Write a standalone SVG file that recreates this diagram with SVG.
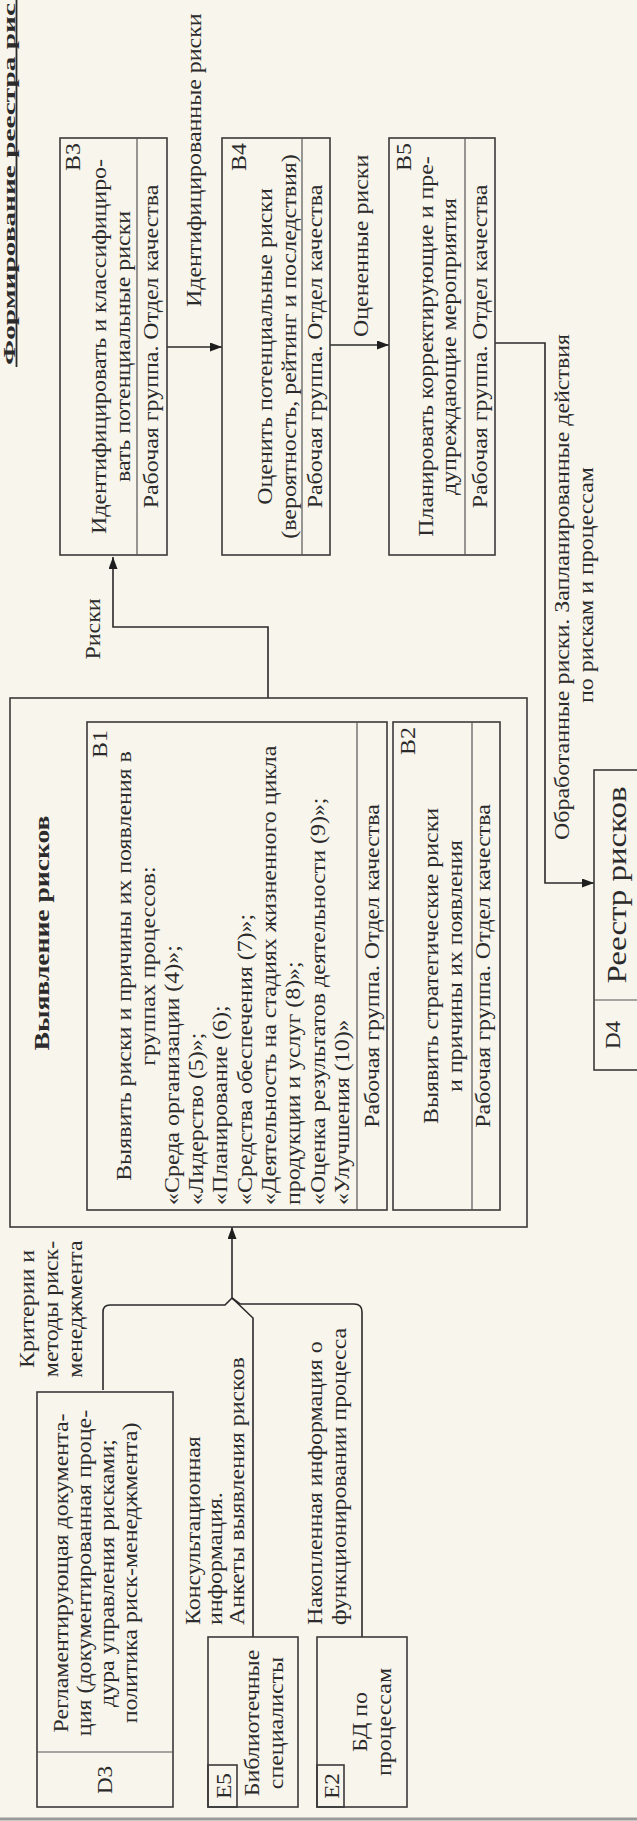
<svg xmlns="http://www.w3.org/2000/svg" width="637" height="1821" viewBox="0 0 637 1821" xml:space="preserve">
<style>
.t{font-family:"Liberation Serif","Times New Roman",serif;font-size:21px;fill:#2b2b2b}
.m{text-anchor:middle}.s{text-anchor:start}.e{text-anchor:end}
.b{font-weight:bold}
.box{fill:none;stroke:#3a3a3a;stroke-width:1.6}
.dv{fill:none;stroke:#555;stroke-width:1.2}
.con{fill:none;stroke:#2a2a2a;stroke-width:1.6}
</style>
<defs>
<marker id="ah" markerUnits="userSpaceOnUse" markerWidth="13" markerHeight="10" refX="12" refY="4.5" orient="auto">
<path d="M0,0 L12,4.5 L0,9 z" fill="#1e1e1e"/>
</marker>
</defs>
<rect x="0" y="0" width="637" height="1821" fill="#f8f5ec"/>
<g transform="matrix(0,-1,1,0,0,1821)">
<line x1="2" y1="0" x2="2" y2="637" stroke="#999" stroke-width="3"/>
<g id="title">
<text class="t b" x="1456" y="14.5" style="font-size:17px" textLength="362" lengthAdjust="spacingAndGlyphs">Формирование реестра рис</text>
<line x1="1454" y1="16.5" x2="1821" y2="16.5" stroke="#2b2b2b" stroke-width="1.8"/>
</g>
<g id="connectors">
<path class="con" d="M1123,268 H1194 V113 H1264" marker-end="url(#ah)"/>
<path class="con" d="M1474,167 V222" marker-end="url(#ah)"/>
<path class="con" d="M1476,330 V389" marker-end="url(#ah)"/>
<path class="con" d="M1478,495 V545 H938 V594" marker-end="url(#ah)"/>
<path class="con" d="M523,232 H594" marker-end="url(#ah)"/>
<path class="con" d="M431,103 H509 Q516,103 516,110 V225 L523,232"/>
<path class="con" d="M184,253 H503 L523,232"/>
<path class="con" d="M184,362 H509 Q517,362 517,354 V240 L523,232"/>
<text class="t m" transform="translate(1192,100) scale(1.14,1)">Риски</text>
<text class="t s" transform="translate(1514,201) scale(1.14,1)">Идентифицированные риски</text>
<text class="t s" transform="translate(1484,368) scale(1.14,1)">Оцененные риски</text>
<text class="t m" transform="translate(1234,569) scale(1.14,1)">Обработанные  риски. Запланированные действия</text>
<text class="t m" transform="translate(1236,593) scale(1.14,1)">по рискам и процессам</text>
<text class="t m" transform="translate(512,34) scale(1.14,1)">Критерии и</text>
<text class="t m" transform="translate(512,58) scale(1.14,1)">методы риск-</text>
<text class="t m" transform="translate(512,82) scale(1.14,1)">менеджмента</text>
<text class="t s" transform="translate(196,200) scale(1.14,1)">Консультационная</text>
<text class="t s" transform="translate(196,222) scale(1.14,1)">информация.</text>
<text class="t s" transform="translate(196,244) scale(1.14,1)">Анкеты выявления рисков</text>
<text class="t s" transform="translate(196,322) scale(1.14,1)">Накопленная информация о</text>
<text class="t s" transform="translate(196,346) scale(1.14,1)">функционировании процесса</text>
</g>
<g id="A0">
<rect class="box" x="594" y="10" width="529" height="517"/>
<text class="t m b" x="888" y="49" style="font-size:22px" textLength="235" lengthAdjust="spacingAndGlyphs">Выявление рисков</text>
</g>
<g id="B1">
<rect class="box" x="611" y="87" width="488" height="300"/>
<line class="dv" x1="611" y1="357" x2="1099" y2="357"/>
<text class="t e" transform="translate(1091,107) scale(1.14,1)">B1</text>
<text class="t m" transform="translate(855,131) scale(1.14,1)">Выявить риски и причины их появления в</text>
<text class="t m" transform="translate(855,155) scale(1.14,1)">группах процессов:</text>
<text class="t s" transform="translate(616,179) scale(1.14,1)">«Среда организации (4)»;</text>
<text class="t s" transform="translate(616,203) scale(1.14,1)">«Лидерство (5)»;</text>
<text class="t s" transform="translate(616,227) scale(1.14,1)">«Планирование (6);</text>
<text class="t s" transform="translate(616,252) scale(1.14,1)">«Средства обеспечения (7)»;</text>
<text class="t s" transform="translate(616,276) scale(1.14,1)">«Деятельность на стадиях жизненного цикла</text>
<text class="t s" transform="translate(616,300) scale(1.14,1)">продукции и услуг (8)»;</text>
<text class="t s" transform="translate(616,325) scale(1.14,1)">«Оценка результатов деятельности (9)»;</text>
<text class="t s" transform="translate(616,349) scale(1.14,1)">«Улучшения (10)»</text>
<text class="t m" transform="translate(855,379) scale(1.14,1)">Рабочая группа. Отдел качества</text>
</g>
<g id="B2">
<rect class="box" x="611" y="393" width="488" height="107"/>
<line class="dv" x1="611" y1="472" x2="1099" y2="472"/>
<text class="t e" transform="translate(1094,415) scale(1.14,1)">B2</text>
<text class="t m" transform="translate(855,438) scale(1.14,1)">Выявить стратегические  риски</text>
<text class="t m" transform="translate(855,462) scale(1.14,1)">и причины их появления</text>
<text class="t m" transform="translate(855,490) scale(1.14,1)">Рабочая группа. Отдел качества</text>
</g>
<g id="B3">
<rect class="box" x="1266" y="60" width="417" height="107"/>
<line class="dv" x1="1266" y1="137" x2="1683" y2="137"/>
<text class="t e" transform="translate(1678,80) scale(1.14,1)">B3</text>
<text class="t m" transform="translate(1474.5,106) scale(1.14,1)">Идентифицировать и классифициро-</text>
<text class="t m" transform="translate(1474.5,130) scale(1.14,1)">вать  потенциальные риски</text>
<text class="t m" transform="translate(1474.5,158) scale(1.14,1)">Рабочая группа. Отдел качества</text>
</g>
<g id="B4">
<rect class="box" x="1266" y="222" width="417" height="108"/>
<line class="dv" x1="1266" y1="302" x2="1683" y2="302"/>
<text class="t e" transform="translate(1678,246) scale(1.14,1)">B4</text>
<text class="t m" transform="translate(1474.5,272) scale(1.14,1)">Оценить потенциальные риски</text>
<text class="t m" transform="translate(1474.5,296) scale(1.14,1)">(вероятность, рейтинг и последствия)</text>
<text class="t m" transform="translate(1474.5,322) scale(1.14,1)">Рабочая группа. Отдел качества</text>
</g>
<g id="B5">
<rect class="box" x="1266" y="389" width="417" height="106"/>
<line class="dv" x1="1266" y1="465" x2="1683" y2="465"/>
<text class="t e" transform="translate(1678,411) scale(1.14,1)">B5</text>
<text class="t m" transform="translate(1474.5,433) scale(1.14,1)">Планировать корректирующие и пре-</text>
<text class="t m" transform="translate(1474.5,456) scale(1.14,1)">дупреждающие мероприятия</text>
<text class="t m" transform="translate(1474.5,487) scale(1.14,1)">Рабочая группа. Отдел качества</text>
</g>
<g id="D4">
<rect class="box" x="751" y="594" width="300" height="70"/>
<line class="dv" x1="821" y1="594" x2="821" y2="637"/>
<text class="t m" transform="translate(786,620) scale(1.1,1)">D4</text>
<text class="t m" transform="translate(936,626) scale(1.22,1)" style="font-size:27px">Реестр рисков</text>
</g>
<g id="D3">
<rect class="box" x="14" y="37" width="415" height="136"/>
<line class="dv" x1="69" y1="37" x2="69" y2="173"/>
<text class="t m" transform="translate(41,112) scale(1.1,1)">D3</text>
<text class="t m" transform="translate(248,68) scale(1.14,1)">Регламентирующая документа-</text>
<text class="t m" transform="translate(248,91) scale(1.14,1)">ция (документированная проце-</text>
<text class="t m" transform="translate(248,114) scale(1.14,1)">дура управления рисками;</text>
<text class="t m" transform="translate(248,137) scale(1.14,1)">политика  риск-менеджмента)</text>
</g>
<g id="E5">
<rect class="box" x="14" y="208" width="170" height="90"/>
<rect class="box" x="14" y="208" width="42" height="29"/>
<text class="t m" transform="translate(35,231) scale(1.1,1)">E5</text>
<text class="t m" transform="translate(98,259) scale(1.14,1)">Библиотечные</text>
<text class="t m" transform="translate(98,283) scale(1.14,1)">специалисты</text>
</g>
<g id="E2">
<rect class="box" x="14" y="317" width="170" height="90"/>
<rect class="box" x="14" y="317" width="42" height="27"/>
<text class="t m" transform="translate(35,339) scale(1.1,1)">E2</text>
<text class="t m" transform="translate(99,367) scale(1.14,1)">БД по</text>
<text class="t m" transform="translate(99,391) scale(1.14,1)">процессам</text>
</g>
</g>
</svg>
